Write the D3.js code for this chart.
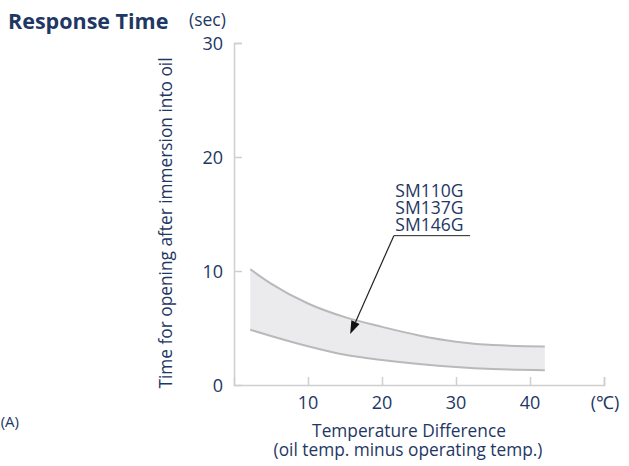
<!DOCTYPE html>
<html><head><meta charset="utf-8">
<script src="https://cdn.jsdelivr.net/npm/d3@7"></script>
<style>
body{margin:0;background:#fff;}
text{font-family:"Open Sans",sans-serif;fill:#1e3764;}
</style></head>
<body><svg id="c" width="629" height="466"></svg>
<script>
const temps = [2.2, 5, 10, 15, 20, 25, 30, 35, 42];
const upperTimes = [10.15, 8.9, 7.15, 5.95, 5.1, 4.35, 3.8, 3.5, 3.38];
const lowerTimes = [4.85, 4.3, 3.4, 2.65, 2.2, 1.85, 1.58, 1.4, 1.3];
const xTicks = [10, 20, 30, 40];
const yTicks = [0, 10, 20, 30];
const models = ["SM110G", "SM137G", "SM146G"];
const arrowTip = [15.7, 4.47];
const arrowStart = [21.6, 13.1];
const underlineEnd = 31.9;

const svg = d3.select("#c");
const x = d3.scaleLinear().domain([0, 50]).range([234, 604]);
const y = d3.scaleLinear().domain([0, 30]).range([385, 43]);
const axisColor = "#cfcfcf";

// band
const data = temps.map((t, i) => ({t, u: upperTimes[i], l: lowerTimes[i]}));
const curve = d3.curveMonotoneX;
svg.append("path").datum(data)
  .attr("d", d3.area().x(d => x(d.t)).y0(d => y(d.l)).y1(d => y(d.u)).curve(curve))
  .attr("fill", "#ebebed");
svg.append("path").datum(data)
  .attr("d", d3.line().x(d => x(d.t)).y(d => y(d.u)).curve(curve))
  .attr("fill", "none").attr("stroke", "#b9b9bb").attr("stroke-width", 2);
svg.append("path").datum(data)
  .attr("d", d3.line().x(d => x(d.t)).y(d => y(d.l)).curve(curve))
  .attr("fill", "none").attr("stroke", "#b9b9bb").attr("stroke-width", 2);

// axes
const xAxis = d3.axisTop(x).tickValues([...xTicks, 50]).tickSize(8).tickFormat("");
const gx = svg.append("g").attr("transform", `translate(0,${y(0)})`).call(xAxis);
const yAxis = d3.axisRight(y).tickValues(yTicks.slice(1)).tickSize(8).tickFormat("");
const gy = svg.append("g").attr("transform", `translate(${x(0)},0)`).call(yAxis);
[gx, gy].forEach(g => {
  g.select(".domain").attr("stroke", axisColor).attr("stroke-width", 1.5);
  g.selectAll(".tick line").attr("stroke", axisColor).attr("stroke-width", 1.5);
});
// x tick labels
svg.selectAll(".xl").data(xTicks).enter().append("text")
  .attr("x", d => x(d)).attr("y", 409).attr("text-anchor", "middle")
  .attr("font-size", 18).text(d => d);
svg.append("text").attr("x", 605).attr("y", 409).attr("text-anchor", "middle")
  .attr("font-size", 18).text("(℃)");
// y tick labels
svg.selectAll(".yl").data(yTicks).enter().append("text")
  .attr("x", 223).attr("y", d => y(d) + 6.5).attr("text-anchor", "end")
  .attr("font-size", 18).text(d => d);

// titles
svg.append("text").attr("x", 8).attr("y", 29).attr("font-size", 21.5)
  .attr("font-weight", "bold").text("Response Time");
svg.append("text").attr("x", 189).attr("y", 26).attr("font-size", 17.5).text("(sec)");
svg.append("text").attr("transform", "translate(172,223) rotate(-90)")
  .attr("text-anchor", "middle").attr("font-size", 17.3)
  .text("Time for opening after immersion into oil");
svg.append("text").attr("x", 409).attr("y", 437).attr("text-anchor", "middle")
  .attr("font-size", 17.3).text("Temperature Difference");
svg.append("text").attr("x", 408).attr("y", 456).attr("text-anchor", "middle")
  .attr("font-size", 17.3).text("(oil temp. minus operating temp.)");
svg.append("text").attr("x", 19).attr("y", 427).attr("text-anchor", "end")
  .attr("font-size", 15).text("(A)");

// annotation
svg.selectAll(".ml").data(models).enter().append("text")
  .attr("x", x(arrowStart[0]) + 1.5).attr("y", (d, i) => 197 + i * 16.8)
  .attr("font-size", 17.5).text(d => d);
svg.append("line").attr("x1", x(arrowStart[0])).attr("y1", y(arrowStart[1]))
  .attr("x2", x(underlineEnd)).attr("y2", y(arrowStart[1]))
  .attr("stroke", "#222").attr("stroke-width", 1);
const sx = x(arrowStart[0]), sy = y(arrowStart[1]), tx = x(arrowTip[0]), ty = y(arrowTip[1]);
const ang = Math.atan2(ty - sy, tx - sx);
const hl = 13, hw = 4.5;
const bx = tx - hl * Math.cos(ang), by = ty - hl * Math.sin(ang);
svg.append("line").attr("x1", sx).attr("y1", sy).attr("x2", bx).attr("y2", by)
  .attr("stroke", "#222").attr("stroke-width", 1.2);
svg.append("path")
  .attr("d", `M${tx},${ty}L${bx + hw * Math.sin(ang)},${by - hw * Math.cos(ang)}L${bx - hw * Math.sin(ang)},${by + hw * Math.cos(ang)}Z`)
  .attr("fill", "#111");
</script></body></html>
